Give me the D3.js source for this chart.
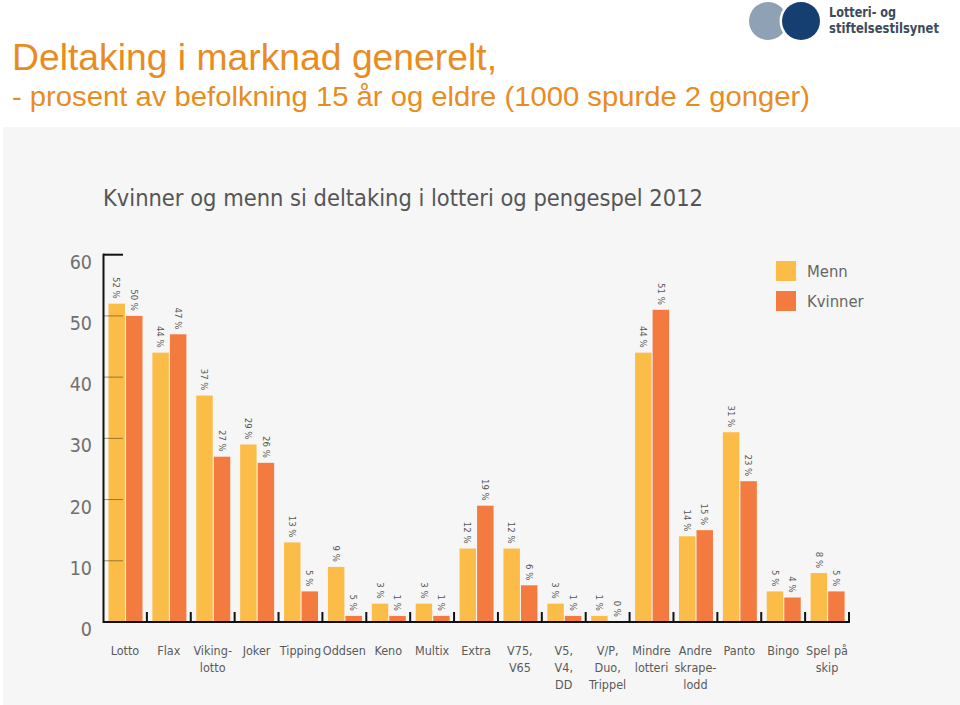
<!DOCTYPE html>
<html>
<head>
<meta charset="utf-8">
<script src="https://cdn.jsdelivr.net/npm/d3@7"></script>
<style>
  html, body { margin: 0; padding: 0; background: #ffffff; }
  svg { display: block; }
</style>
</head>
<body>
<svg id="chart" width="960" height="705"></svg>
<script>
// ---- Data ----
const categories = ["Lotto", "Flax", "Viking-\nlotto", "Joker", "Tipping", "Oddsen", "Keno", "Multix", "Extra",
  "V75,\nV65", "V5,\nV4,\nDD", "V/P,\nDuo,\nTrippel", "Mindre\nlotteri", "Andre\nskrape-\nlodd", "Panto", "Bingo", "Spel på\nskip"];
const menn    = [52, 44, 37, 29, 13, 9, 3, 3, 12, 12, 3, 1, 44, 14, 31, 5, 8];
const kvinner = [50, 47, 27, 26, 5, 1, 1, 1, 19, 6, 1, 0, 51, 15, 23, 4, 5];
// printed labels (the Oddsen bar for Kvinner is drawn at ~1 but labelled 5 %)
const mennLabels    = ["52 %", "44 %", "37 %", "29 %", "13 %", "9 %", "3 %", "3 %", "12 %", "12 %", "3 %", "1 %", "44 %", "14 %", "31 %", "5 %", "8 %"];
const kvinnerLabels = ["50 %", "47 %", "27 %", "26 %", "5 %", "5 %", "1 %", "1 %", "19 %", "6 %", "1 %", "0 %", "51 %", "15 %", "23 %", "4 %", "5 %"];
const seriesNames = ["Menn", "Kvinner"];
const yTicks = [0, 10, 20, 30, 40, 50, 60];
const headline = "Deltaking i marknad generelt,";
const subline = "- prosent av befolkning 15 år og eldre (1000 spurde 2 gonger)";
const chartTitle = "Kvinner og menn si deltaking i lotteri og pengespel 2012";
const logoLines = ["Lotteri- og", "stiftelsestilsynet"];

const colors = { Menn: "#fcbd48", Kvinner: "#f47b40" };
const seriesData = { Menn: menn, Kvinner: kvinner };
const seriesLabels = { Menn: mennLabels, Kvinner: kvinnerLabels };

const svg = d3.select("#chart");
const condensed = "'DejaVu Sans Condensed', 'DejaVu Sans', sans-serif";

// Background panel
svg.append("rect").attr("x", 3).attr("y", 127).attr("width", 957).attr("height", 578).attr("fill", "#f6f6f6");

// Header
svg.append("text").attr("x", 12).attr("y", 70)
  .attr("font-family", "'Liberation Sans', Arial, sans-serif").attr("font-size", 37)
  .attr("textLength", 485).attr("lengthAdjust", "spacingAndGlyphs")
  .attr("fill", "#e98c1f").text(headline);
svg.append("text").attr("x", 12).attr("y", 106)
  .attr("font-family", "'Liberation Sans', Arial, sans-serif").attr("font-size", 28)
  .attr("textLength", 798).attr("lengthAdjust", "spacingAndGlyphs")
  .attr("fill", "#e98c1f").text(subline);

// Logo
const logo = svg.append("g");
logo.append("circle").attr("cx", 768).attr("cy", 21).attr("r", 19).attr("fill", "#8ea1b5");
logo.append("circle").attr("cx", 801).attr("cy", 21).attr("r", 21.5).attr("fill", "#ffffff");
logo.append("circle").attr("cx", 801).attr("cy", 21).attr("r", 19).attr("fill", "#163f71");
logo.selectAll("text.logo").data(logoLines).join("text")
  .attr("class", "logo")
  .attr("x", 829).attr("y", (d, i) => 17 + i * 16)
  .attr("font-family", "'DejaVu Sans Condensed', 'DejaVu Sans', sans-serif")
  .attr("font-weight", "bold").attr("font-size", 13.5)
  .attr("textLength", (d, i) => i === 0 ? 67 : 110).attr("lengthAdjust", "spacingAndGlyphs")
  .attr("fill", "#3d4b5a").text(d => d);

// Chart title
svg.append("text").attr("x", 103).attr("y", 206)
  .attr("font-family", condensed).attr("font-size", 23)
  .attr("textLength", 600).attr("lengthAdjust", "spacingAndGlyphs")
  .attr("fill", "#555555").text(chartTitle);

// Scales
const x = d3.scaleBand().domain(categories).range([103, 849]).paddingInner(0).paddingOuter(0);
const xi = d3.scaleBand().domain(seriesNames).range([5.5, 39.5]).paddingInner(0.06);
const y = d3.scaleLinear().domain([0, 60]).range([622, 254.7]);

// Bars
const groups = svg.append("g").selectAll("g").data(categories).join("g")
  .attr("transform", d => `translate(${x(d)},0)`);

const groupItems = (d, i) => seriesNames.map(s => ({ s, v: seriesData[s][i], label: seriesLabels[s][i] }));

groups.selectAll("rect").data(groupItems)
  .join("rect")
  .attr("x", d => xi(d.s)).attr("width", xi.bandwidth())
  .attr("y", d => y(d.v)).attr("height", d => y(0) - y(d.v))
  .attr("fill", d => colors[d.s]);

// Value labels (rotated)
groups.selectAll("text.val").data(groupItems)
  .join("text")
  .attr("class", "val")
  .attr("transform", d => `translate(${xi(d.s) + xi.bandwidth() / 2},${y(d.v) - 5}) rotate(90)`)
  .attr("text-anchor", "end").attr("dy", "0.35em")
  .attr("font-family", condensed).attr("font-size", 9.5)
  .attr("fill", "#555555").text(d => d.label);

// Y axis
const yAxis = svg.append("g");
yAxis.selectAll("line.tick").data(yTicks.filter(t => t > 0 && t < 60)).join("line")
  .attr("class", "tick")
  .attr("x1", 103).attr("x2", 123).attr("y1", d => y(d)).attr("y2", d => y(d))
  .attr("stroke", "#4a3a10").attr("stroke-opacity", 0.55).attr("stroke-width", 1);
yAxis.append("line").attr("x1", 103).attr("x2", 123).attr("y1", y(60)).attr("y2", y(60))
  .attr("stroke", "#111").attr("stroke-width", 2);
yAxis.append("line").attr("x1", 103.5).attr("x2", 103.5).attr("y1", y(60) - 1).attr("y2", y(0) + 1)
  .attr("stroke", "#111").attr("stroke-width", 2);
yAxis.selectAll("text").data(yTicks).join("text")
  .attr("x", 92).attr("y", d => y(d) + 14)
  .attr("text-anchor", "end")
  .attr("font-family", condensed).attr("font-size", 19.5)
  .attr("fill", "#707070").text(d => d);

// X axis
const xAxis = svg.append("g");
xAxis.append("line").attr("x1", 103).attr("x2", 850).attr("y1", y(0)).attr("y2", y(0))
  .attr("stroke", "#111").attr("stroke-width", 2);
const sepPositions = categories.slice(1).map(c => x(c)).concat([x(categories[categories.length - 1]) + x.bandwidth()]);
xAxis.selectAll("line.sep").data(sepPositions).join("line")
  .attr("class", "sep")
  .attr("x1", d => d).attr("x2", d => d)
  .attr("y1", y(0)).attr("y2", y(0) - 10)
  .attr("stroke", "#111").attr("stroke-width", 2);

// Category labels
const catLabels = xAxis.selectAll("text.cat").data(categories).join("text")
  .attr("class", "cat")
  .attr("text-anchor", "middle")
  .attr("font-family", condensed).attr("font-size", 12.5)
  .attr("fill", "#5a5a5a");
catLabels.selectAll("tspan").data(d => d.split("\n").map(t => ({ t, c: d }))).join("tspan")
  .attr("x", d => x(d.c) + x.bandwidth() / 2)
  .attr("y", (d, i) => 655 + i * 17)
  .text(d => d.t);

// Legend
const legend = svg.append("g").selectAll("g").data(seriesNames).join("g")
  .attr("transform", (d, i) => `translate(776,${261 + i * 30})`);
legend.append("rect").attr("width", 20).attr("height", 20).attr("fill", d => colors[d]);
legend.append("text").attr("x", 31).attr("y", 16)
  .attr("font-family", condensed).attr("font-size", 16.5)
  .attr("fill", "#666666").text(d => d);
</script>
</body>
</html>
